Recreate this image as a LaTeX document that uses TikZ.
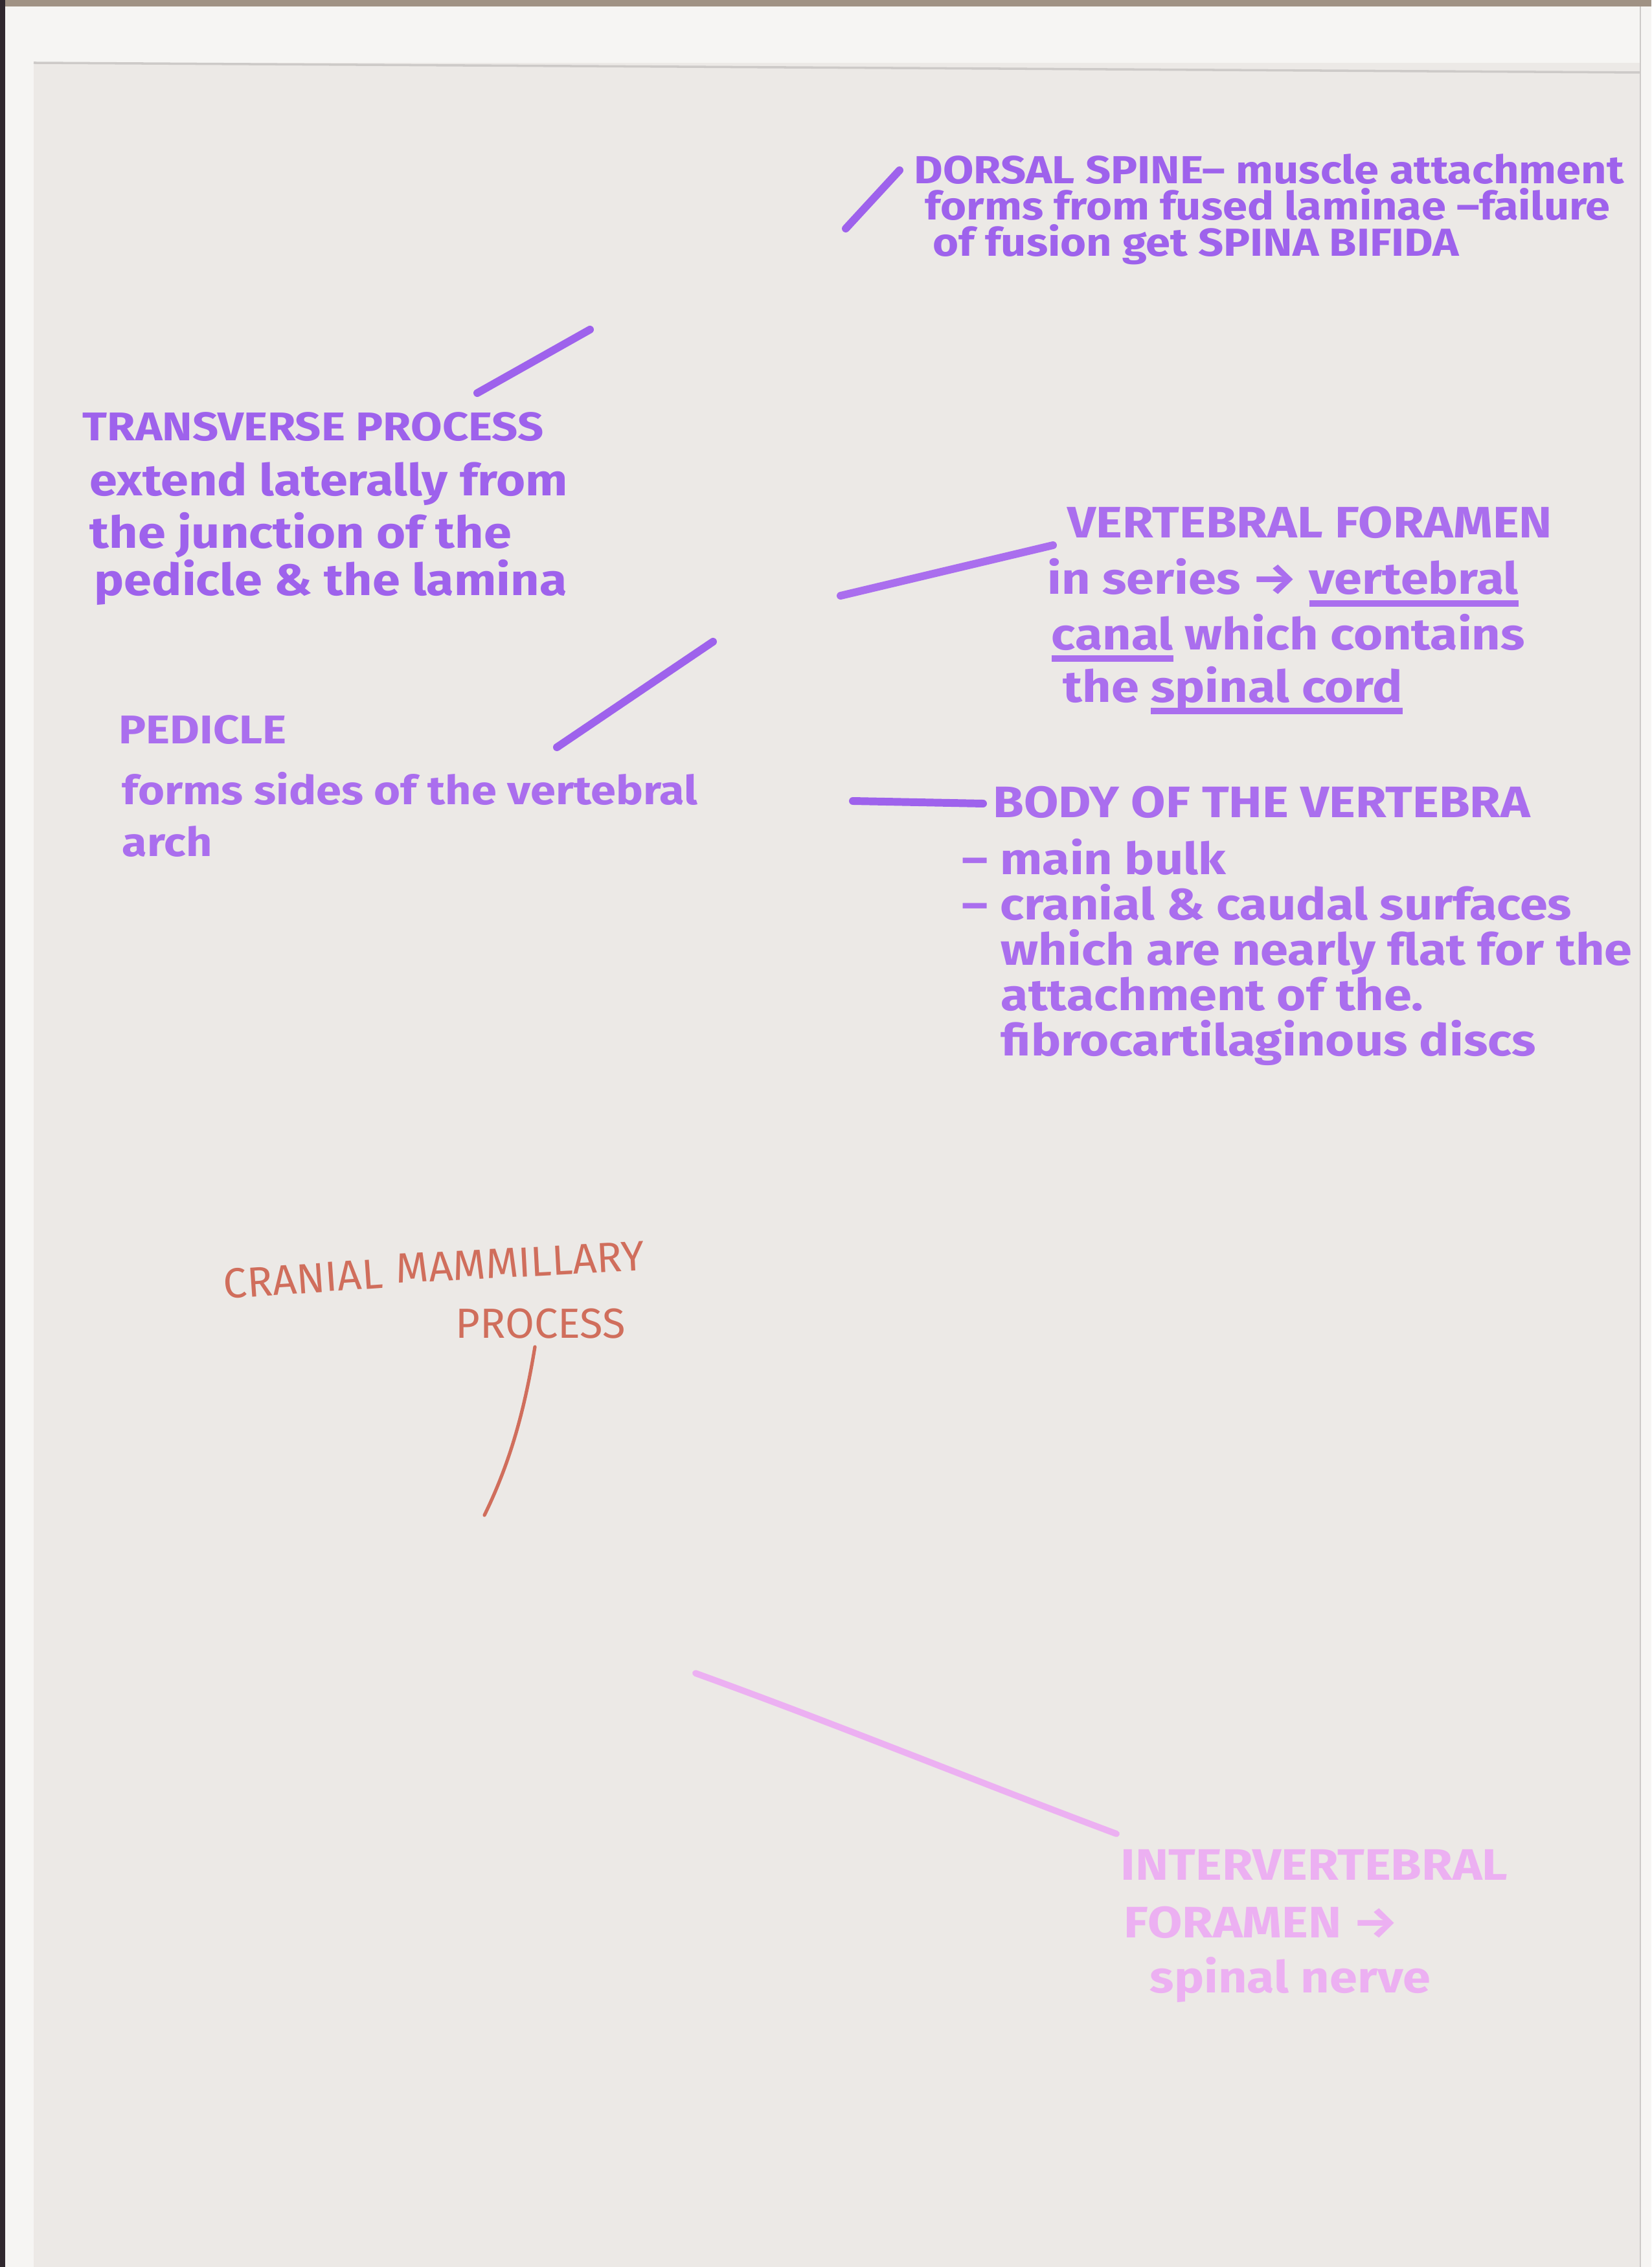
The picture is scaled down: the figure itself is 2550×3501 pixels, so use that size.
\documentclass[tikz,border=0pt]{standalone}
\usepackage{fontspec}
\setmainfont{Fira Sans}
\definecolor{paper}{RGB}{236,233,230}
\definecolor{sheetedge}{RGB}{246,245,243}
\definecolor{scanband}{RGB}{48,40,46}
\definecolor{scantop}{RGB}{160,146,132}
\definecolor{crease}{RGB}{205,202,200}
\definecolor{violet}{RGB}{158,98,236}
\definecolor{lilac}{RGB}{170,110,238}
\definecolor{rust}{RGB}{208,110,92}
\definecolor{rose}{RGB}{236,176,242}
% thick marker-style underline
\newcommand\markul[1]{\setbox0\hbox{#1}\rlap{\rule[-6pt]{\wd0}{3.2pt}}\box0\relax}
\begin{document}
\begin{tikzpicture}[x=0.01cm,y=-0.01cm,
  hand/.style={inner sep=0pt, anchor=base west, yscale=0.88, font=\fontsize{22}{26}\selectfont\bfseries},
  hand20/.style={hand, font=\fontsize{20}{24}\selectfont\bfseries},
  hand19/.style={hand, font=\fontsize{19.5}{24}\selectfont\bfseries},
  thin hand/.style={inner sep=0pt, anchor=base west, font=\fontsize{18.5}{22}\selectfont},
  lead/.style={line width=3.4pt, line cap=round},
  fine lead/.style={line width=1.5pt, line cap=round}]
% sheet and scan borders
\fill[paper] (0,0) rectangle (2550,3501);
\useasboundingbox (0,0) rectangle (2550,3501);
\fill[sheetedge] (8,10) rectangle (52,3501);
\fill[sheetedge] (8,10) rectangle (2550,97);
\fill[sheetedge] (2533,10) rectangle (2550,3501);
\draw[crease, line width=1pt] (52,97) -- (2533,112);
\draw[crease, line width=0.6pt] (2533,10) -- (2533,3501);
\fill[scantop] (0,0) rectangle (2550,10);
\fill[scanband] (0,0) rectangle (8,3501);

% dorsal spine
\node[hand19, text=violet] (ds1) at (1411,284) {DORSAL SPINE– muscle attachment};
\node[hand19, text=violet] (ds2) at (1428,340) {forms from fused laminae –failure};
\node[hand19, text=violet] (ds3) at (1440,396) {of fusion get SPINA BIFIDA};
\coordinate (dsA) at (1306,353);
\coordinate (dsB) at (1389,263);
\draw[lead, violet] (dsA) -- (dsB);

% transverse process
\node[hand20, text=violet] (tp1) at (127,681) {TRANSVERSE PROCESS};
\node[hand, text=violet] (tp2) at (138,766) {extend laterally from};
\node[hand, text=violet] (tp3) at (138,847) {the junction of the};
\node[hand, text=violet] (tp4) at (145,920) {pedicle \& the lamina};
\coordinate (tpA) at (737,607);
\coordinate (tpB) at (911,509);
\draw[lead, violet] (tpA) -- (tpB);

% vertebral foramen
\node[hand, text=lilac] (vf1) at (1648,831) {VERTEBRAL FORAMEN};
\node[hand, text=lilac] (vf2) at (1617,918) {in series → \markul{vertebral}};
\node[hand, text=lilac] (vf3) at (1623,1003) {\markul{canal} which contains};
\node[hand, text=lilac] (vf4) at (1641,1084) {the \markul{spinal cord}};
\coordinate (vfA) at (1298,920);
\coordinate (vfB) at (1626,842);
\draw[lead, lilac] (vfA) -- (vfB);

% pedicle
\node[hand20, text=lilac] (pd1) at (183,1148) {PEDICLE};
\node[hand20, text=lilac] (pd2) at (188,1242) {forms sides of the vertebral};
\node[hand20, text=lilac] (pd3) at (188,1322) {arch};
\coordinate (pdA) at (860,1154);
\coordinate (pdB) at (1101,991);
\draw[lead, violet] (pdA) -- (pdB);

% body of the vertebra
\node[hand, text=lilac] (bv1) at (1533,1262) {BODY OF THE VERTEBRA};
\node[hand, text=lilac] (bv2) at (1485,1350) {– main bulk};
\node[hand, text=lilac] (bv3) at (1485,1420) {– cranial \& caudal surfaces};
\node[hand, text=lilac] (bv4) at (1545,1490) {which are nearly flat for the};
\node[hand, text=lilac] (bv5) at (1545,1560) {attachment of the.};
\node[hand, text=lilac] (bv6) at (1545,1630) {fibrocartilaginous discs};
\coordinate (bvA) at (1317,1237);
\coordinate (bvB) at (1518,1241);
\draw[lead, violet] (bvA) -- (bvB);

% cranial mammillary process
\node[thin hand, text=rust, rotate=4] (cm1) at (346,2006) {CRANIAL};
\node[thin hand, text=rust, rotate=3] (cm2) at (612,1982) {MAMMILLARY};
\node[thin hand, text=rust] (cm3) at (703,2066) {PROCESS};
\coordinate (cmA) at (826,2080);
\coordinate (cmB) at (748,2340);
\draw[fine lead, rust] (cmA) .. controls (812,2165) and (792,2250) .. (cmB);

% intervertebral foramen
\node[hand, text=rose] (if1) at (1730,2903) {INTERVERTEBRAL};
\node[hand, text=rose] (if2) at (1735,2992) {FORAMEN →};
\node[hand, text=rose] (if3) at (1775,3077) {spinal nerve};
\coordinate (ifA) at (1074,2584);
\coordinate (ifB) at (1724,2832);
\draw[line width=2.8pt, line cap=round, rose] (ifA) .. controls (1290,2662) and (1510,2752) .. (ifB);
\end{tikzpicture}
\end{document}
